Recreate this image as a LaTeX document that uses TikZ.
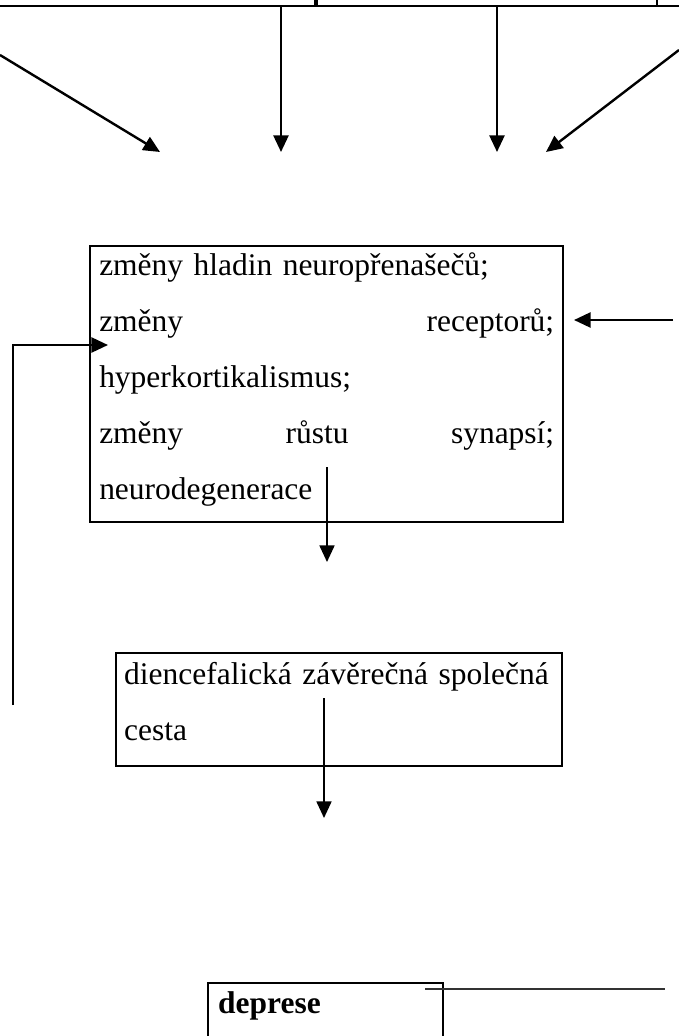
\documentclass[tikz,border=0pt]{standalone}
\usepackage{fontspec}
\setmainfont{Liberation Serif}
\usetikzlibrary{arrows.meta, positioning, calc}

\begin{document}
\begin{tikzpicture}[
    x=0.375pt, y=-0.375pt,
    font=\fontsize{11.8}{21}\selectfont,
    box/.style={rectangle, draw, line width=0.9pt, inner ysep=0pt, align=left, anchor=north west},
    arrow/.style={-{Triangle[length=6.2pt, width=5.6pt]}, line width=0.9pt},
    thinarrow/.style={arrow, line width=0.65pt}
]
\useasboundingbox (0,0) rectangle (679,1036);

% Boxes above, cut off by the page
\node[box, anchor=south east, minimum width=150pt, minimum height=60pt] (causeA) at (316,7) {};
\node[box, anchor=south west, minimum width=127.5pt, minimum height=60pt] (causeB) at (316,7) {};
\node[box, anchor=south west, minimum width=60pt, minimum height=60pt] (causeC) at (656,7) {};

% Main boxes
\node[box, inner xsep=3.4pt, text width=170.6pt, text height=10.9pt, text depth=92.6pt] (changes) at (89,245)
    {změny hladin neuropřenašečů;\\ změny\hfill receptorů;\\ hyperkortikalismus;\\ změny\hfill růstu\hfill synapsí;\\ neurodegenerace};
\node[box, inner xsep=3pt, text width=161.25pt, text height=11.6pt, text depth=30.75pt] (pathway) at (115,652)
    {\mbox{diencefalická závěrečná společná}\\ cesta};
\node[box, inner xsep=3.75pt, text width=80.6pt, text height=11.25pt, text depth=22pt,
    font=\fontsize{11.8}{21}\selectfont\bfseries] (deprese) at (207,982) {deprese};

% Ends of the connectors
\coordinate (inA) at (0,55);
\coordinate (tipA) at (160,152);
\coordinate (tipB) at (281,152);
\coordinate (tipC) at (497,152);
\coordinate (inD) at (679,50);
\coordinate (tipD) at (546,152);
\coordinate (rcpIn) at (673,320);
\coordinate (rcpTip) at (574,320);
\coordinate (fbIn) at (13,705);
\coordinate (fbTip) at (108,345);
\coordinate (outA) at (327,467);
\coordinate (tipE) at (327,562);
\coordinate (outB) at (324,698);
\coordinate (tipF) at (324,818);
\coordinate (lineL) at (425,989);
\coordinate (lineR) at (665,989);

\draw[arrow] (inA) -- (tipA);
\draw[arrow] (causeA.south -| tipB) -- (tipB);
\draw[arrow] (causeB.south -| tipC) -- (tipC);
\draw[arrow] (inD) -- (tipD);

\draw[arrow] (rcpIn) -- (rcpTip);
\draw[arrow] (fbIn) |- (fbTip);

\draw[thinarrow] (outA) -- (tipE);
\draw[thinarrow] (outB) -- (tipF);

\draw[line width=0.5pt, black!80] (lineL) -- (lineR);

\end{tikzpicture}
\end{document}
